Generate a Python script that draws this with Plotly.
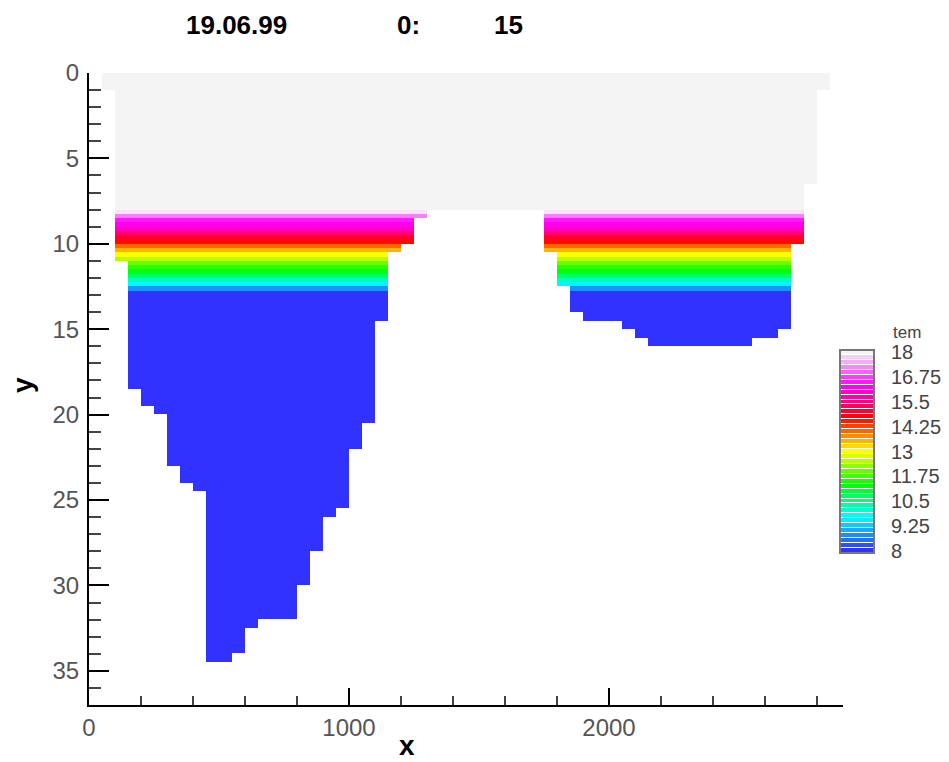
import numpy as np
import plotly.graph_objects as go

# ---------------- data ----------------
# Grid: water columns of 50 m width, first column starts at x = 50 m
COL_START = 50
COL_WIDTH = 50
# Bottom depth (m) of each 50 m water column, from x = 50 m to x = 2850 m
COL_BOTTOM = [
    1, 11, 18.5, 19.5, 20, 23, 24, 24.5, 34.5, 34.5,
    34, 32.5, 32, 32, 32, 30, 28, 26, 25.5, 22,
    20.5, 14.5, 10.5, 10, 8.5,
    8, 8, 8, 8, 8, 8, 8, 8, 8,
    10.5, 12.5, 14, 14.5, 14.5, 14.5, 15, 15.5,
    16, 16, 16, 16, 16, 16, 16, 16,
    15.5, 15.5, 15, 10, 6.5, 1,
]
# Temperature profile: top depth (m) of each layer and its temperature
PROFILE_DEPTH = [0, 8.0, 8.25, 8.5, 8.75, 9.0, 9.25, 9.5, 9.75, 10.0, 10.25,
                 10.5, 10.75, 11.0, 11.25, 11.5, 11.75, 12.0, 12.25, 12.5, 12.75]
PROFILE_TEMP = [18.3, 17.9, 17.2, 16.5, 16.2, 15.9, 15.4, 14.9, 14.6, 14.0, 13.5,
                13.0, 12.5, 12.0, 11.6, 11.2, 10.7, 10.1, 9.6, 8.8, 8.0]
ROW_HEIGHT = 0.25

# Legend
LEVEL_MIN, LEVEL_MAX, LEVEL_STEP = 8.0, 18.0, 0.25
LEGEND_TICKS = [18, 16.75, 15.5, 14.25, 13, 11.75, 10.5, 9.25, 8]
LEGEND_TEXT = ["18", "16.75", "15.5", "14.25", "13", "11.75", "10.5", "9.25", "8"]
LEGEND_TITLE = "tem"

TITLE_PARTS = ["19.06.99", "0:", "15"]

# Tecplot "large rainbow"
COLORSCALE = [
    [0 / 6, "rgb(50,50,255)"],
    [1 / 6, "rgb(0,255,255)"],
    [2 / 6, "rgb(0,255,0)"],
    [3 / 6, "rgb(255,255,0)"],
    [4 / 6, "rgb(255,0,0)"],
    [5 / 6, "rgb(255,0,255)"],
    [6 / 6, "rgb(244,244,244)"],
]

# ---------------- build grid ----------------
ncol = len(COL_BOTTOM)
x_edges = COL_START + COL_WIDTH * np.arange(ncol + 1)
max_depth = max(COL_BOTTOM)
nrow = int(round(max_depth / ROW_HEIGHT))
y_edges = ROW_HEIGHT * np.arange(nrow + 1)
y_mid = 0.5 * (y_edges[:-1] + y_edges[1:])
layer = np.searchsorted(np.array(PROFILE_DEPTH), y_mid, side="right") - 1
row_temp = np.array(PROFILE_TEMP)[layer]
z = np.full((nrow, ncol), np.nan)
for j, b in enumerate(COL_BOTTOM):
    wet = y_mid < b
    z[wet, j] = row_temp[wet]

levels = np.round(np.arange(LEVEL_MIN, LEVEL_MAX + LEVEL_STEP / 2, LEVEL_STEP), 3)

# ---------------- figure ----------------
W, H = 949, 762
OFF = 8  # page body margin


def fx(p):
    return (p - OFF) / W


def fy(p):
    return 1 - (p - OFF) / H


FONT = "Liberation Sans, Arial, Helvetica, sans-serif"

fig = go.Figure()
fig.add_trace(go.Heatmap(
    x=x_edges, y=y_edges, z=z, zmin=LEVEL_MIN, zmax=LEVEL_MAX,
    colorscale=COLORSCALE, showscale=False, hoverongaps=False,
))
fig.add_trace(go.Heatmap(
    x=[0], y=levels, z=[[v] for v in levels], zmin=LEVEL_MIN, zmax=LEVEL_MAX,
    colorscale=COLORSCALE, showscale=False, ygap=1,
    xaxis="x2", yaxis="y2",
))

tickfont = dict(family=FONT, size=24, color="#555555")


def ann(text, x, y, size, color="black", bold=True, angle=0, xanchor="center"):
    f = dict(family=FONT, size=size, color=color)
    if bold:
        f["weight"] = "bold"
    return dict(text=text, x=fx(x), y=fy(y), xref="paper", yref="paper",
                xanchor=xanchor, yanchor="middle", textangle=angle,
                showarrow=False, font=f)


fig.update_layout(
    width=W, height=H,
    margin=dict(l=0, r=0, t=0, b=0),
    paper_bgcolor="white", plot_bgcolor="white",
    showlegend=False,
    xaxis=dict(
        domain=[fx(89), fx(843)], range=[0, 2900], anchor="y",
        showgrid=False, zeroline=False,
        showline=True, linecolor="black", linewidth=2,
        ticks="inside", tick0=0, dtick=1000, ticklen=17, tickwidth=2, tickcolor="black",
        minor=dict(ticks="inside", dtick=200, ticklen=9, tickwidth=2, tickcolor="#444444"),
        tickfont=tickfont, ticklabelstandoff=0, automargin=False,
    ),
    yaxis=dict(
        domain=[fy(705), fy(73)], range=[37, 0], anchor="x",
        showgrid=False, zeroline=False,
        showline=True, linecolor="black", linewidth=2,
        ticks="inside", tick0=0, dtick=5, ticklen=20, tickwidth=2, tickcolor="black",
        minor=dict(ticks="inside", dtick=1, ticklen=12, tickwidth=2, tickcolor="#444444"),
        tickfont=tickfont, ticklabelstandoff=3, automargin=False,
    ),
    xaxis2=dict(domain=[fx(840), fx(874)], anchor="y2", range=[-0.5, 0.5],
                visible=False, fixedrange=True),
    yaxis2=dict(domain=[fy(553), fy(350)], anchor="x2", side="right",
                range=[LEVEL_MIN - LEVEL_STEP / 2, LEVEL_MAX + LEVEL_STEP / 2],
                tickvals=LEGEND_TICKS, ticktext=LEGEND_TEXT, ticks="",
                showgrid=False, zeroline=False, showline=False,
                tickfont=dict(family=FONT, size=20, color="#444444"),
                ticklabelstandoff=16, automargin=False),
    shapes=[
        dict(type="rect", xref="x2 domain", yref="y2 domain", x0=0, x1=1, y0=0, y1=1,
             fillcolor="#333333", line=dict(width=0), layer="below"),
        dict(type="rect", xref="x2 domain", yref="y2 domain", x0=0, x1=1, y0=0, y1=1,
             fillcolor="rgba(0,0,0,0)", line=dict(color="#777777", width=2), layer="above"),
    ],
    annotations=[
        ann(TITLE_PARTS[0], 236, 25, 26),
        ann(TITLE_PARTS[1], 408, 25, 26),
        ann(TITLE_PARTS[2], 508, 25, 26),
        ann("x", 407, 745, 28),
        ann("y", 22, 385, 28, angle=-90),
        ann(LEGEND_TITLE, 891, 332, 17, color="#444444", bold=False, xanchor="left"),
    ],
)

fig.write_html("out.html")
